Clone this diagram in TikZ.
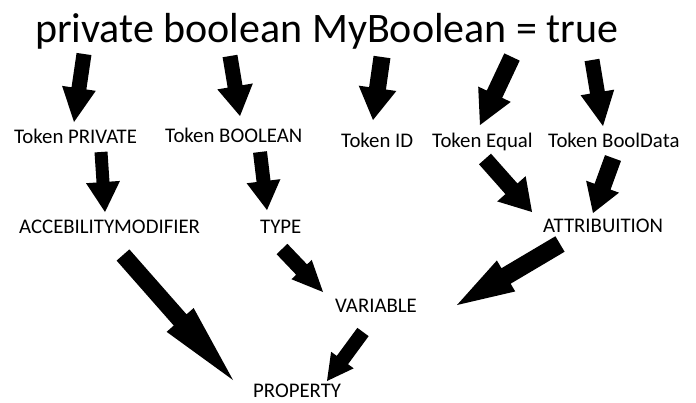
\documentclass[tikz,border=0pt]{standalone}
\usepackage{fontspec}
\setmainfont{Carlito}
\usetikzlibrary{calc}
\tikzset{
  lbl/.style={inner sep=0pt, anchor=base west, font=\fontsize{20.8}{24}\selectfont},
  title/.style={inner sep=0pt, anchor=base west, font=\fontsize{42}{50}\selectfont},
}
% block arrow: from, to, shaft half width, head half width, head length (pt)
\newcommand\blockarr[5]{%
  \coordinate (bb) at ($(#2)!#5pt!(#1)$);
  \fill[black]
    ($(#1)!#3pt!-90:(#2)$) -- ($(bb)!#3pt!-90:(#2)$) -- ($(bb)!#4pt!-90:(#2)$) -- (#2)
    -- ($(bb)!#4pt!90:(#2)$) -- ($(bb)!#3pt!90:(#2)$) -- ($(#1)!#3pt!90:(#2)$) -- cycle;}
\begin{document}
\begin{tikzpicture}[x=1pt,y=-1pt]
\useasboundingbox[fill=white] (0,0) rectangle (696,402);
\node[title] (src) at (35,42) {private boolean MyBoolean = true};
\node[lbl] (tpriv) at (14,143) {Token PRIVATE};
\node[lbl] (tbool) at (165,142) {Token BOOLEAN};
\node[lbl] (tid) at (341,147) {Token ID};
\node[lbl] (teq) at (432,147) {Token Equal};
\node[lbl] (tbd) at (548,147) {Token BoolData};
\node[lbl] (acc) at (19,233) {ACCEBILITYMODIFIER};
\node[lbl] (type) at (260,233) {TYPE};
\node[lbl] (attr) at (543,232) {ATTRIBUITION};
\node[lbl, anchor=base east] (var) at (417,312) {VARIABLE};
\node[lbl] (prop) at (253,397.5) {PROPERTY};
% arrow end points
\coordinate (a1s) at (84,54);   \coordinate (a1e) at (74,122);
\coordinate (a2s) at (230,56);  \coordinate (a2e) at (240,116);
\coordinate (a3s) at (382,57);  \coordinate (a3e) at (373,120);
\coordinate (a4s) at (512,57);  \coordinate (a4e) at (480,125);
\coordinate (a5s) at (592,60);  \coordinate (a5e) at (603,126);
\coordinate (a6s) at (101,152); \coordinate (a6e) at (105,212);
\coordinate (a7s) at (260,152); \coordinate (a7e) at (267,210);
\coordinate (a8s) at (485,159); \coordinate (a8e) at (532,212);
\coordinate (a9s) at (613,158); \coordinate (a9e) at (593,213);
\coordinate (a10s) at (123,255); \coordinate (a10e) at (233,380);
\coordinate (a11s) at (282,249); \coordinate (a11e) at (323,292);
\coordinate (a12s) at (560,244); \coordinate (a12e) at (457,305);
\coordinate (a13s) at (363,332); \coordinate (a13e) at (327,381);
\blockarr{a1s}{a1e}{7.5}{17}{34}
\blockarr{a2s}{a2e}{7.5}{18}{30}
\blockarr{a3s}{a3e}{8.5}{19}{32}
\blockarr{a4s}{a4e}{8.5}{18}{34}
\blockarr{a5s}{a5e}{7.5}{17}{34}
\blockarr{a6s}{a6e}{6.5}{17}{30}
\blockarr{a7s}{a7e}{7}{17}{29}
\blockarr{a8s}{a8e}{8}{19}{31}
\blockarr{a9s}{a9e}{8.5}{17.5}{28}
\blockarr{a10s}{a10e}{8.5}{18}{80}
\blockarr{a11s}{a11e}{7.5}{14}{31}
\blockarr{a12s}{a12e}{9}{18}{57}
\blockarr{a13s}{a13e}{7}{14}{26}
\end{tikzpicture}
\end{document}
